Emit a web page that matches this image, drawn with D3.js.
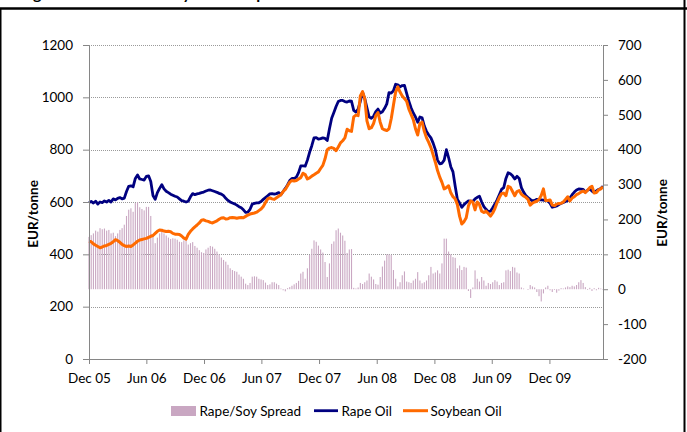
<!DOCTYPE html>
<html><head><meta charset="utf-8">
<script src="https://cdn.jsdelivr.net/npm/d3@7"></script>
<style>
body{margin:0;background:#fff}
svg{display:block}
text{font-family:Lato,"Liberation Sans",sans-serif;fill:#000}
</style>
</head><body>
<svg id="chart" width="687" height="432"></svg>
<script>
// ---- DATA (weekly observations, EUR/tonne) ----
const startDate = "2005-12-01";
const rapeOil = [
 598,602,596,603,592,600,598,604,600,606,600,612,608,614,617,612,615,640,660,662,
 658,690,703,688,686,684,698,700,678,625,610,636,652,666,650,641,636,630,626,622,
 619,612,605,603,600,603,620,632,628,631,633,636,638,642,645,646,643,640,637,633,
 630,624,614,606,600,596,593,588,582,578,570,560,561,572,592,595,597,597,602,610,
 617,624,631,632,630,632,636,628,640,652,665,682,690,690,695,712,738,738,737,760,
 790,815,845,846,840,842,845,843,835,880,920,942,965,984,988,988,984,982,986,985,
 950,944,955,985,1020,995,960,925,920,928,945,955,940,945,958,975,1018,1016,1025,1050,
 1048,1040,1045,1046,1015,985,960,940,925,905,925,922,890,870,856,845,825,800,760,746,
 748,760,800,770,735,715,660,610,596,580,590,598,604,603,602,612,618,622,600,582,
 572,563,565,578,592,608,628,648,655,690,712,708,700,688,698,690,655,638,625,617,
 610,604,606,610,608,608,607,605,604,595,580,582,585,590,595,598,602,605,615,628,
 638,646,650,649,648,638,645,650,642,636,642,648,652,660];
const soyOil = [
 450,448,440,435,430,425,428,432,434,438,442,448,456,452,446,438,433,430,432,430,
 436,443,450,455,457,459,461,465,469,472,480,488,493,492,489,487,488,486,480,477,
 477,476,470,462,458,476,488,497,505,512,520,530,532,528,526,522,520,524,528,534,
 539,540,535,536,540,541,540,538,540,541,540,545,550,554,556,558,561,567,573,583,
 598,612,616,612,610,616,622,628,640,648,662,676,682,680,682,688,693,710,705,688,
 692,699,704,710,715,728,740,765,800,806,808,805,796,810,826,834,845,878,872,870,
 925,932,930,1005,1022,995,910,880,884,900,930,942,905,880,876,873,880,918,970,1020,
 1040,1020,1005,995,985,955,935,915,880,856,900,905,870,845,828,808,780,752,720,695,
 675,650,655,662,635,620,612,590,545,516,525,540,585,604,600,570,600,590,565,560,
 565,556,546,558,575,598,617,632,634,624,660,656,640,624,640,644,630,623,618,610,
 588,596,600,603,610,625,650,606,606,608,588,586,592,594,595,600,610,620,604,615,
 620,628,632,638,642,636,645,655,660,634,636,646,650,658];
const spread = [
 150,155,160,168,165,175,172,174,168,170,160,162,152,160,170,175,185,210,228,232,
 222,247,250,235,230,226,236,236,210,155,132,148,160,172,160,154,148,144,146,145,
 142,136,135,140,142,128,132,135,124,119,112,106,104,114,119,124,122,116,108,100,
 91,84,79,70,60,55,52,50,42,36,30,16,12,18,36,37,36,30,28,26,
 19,12,14,20,20,16,12,2,-3,-6,3,6,10,14,18,24,45,50,30,60,
 98,116,140,136,125,114,105,78,35,74,130,137,169,174,162,154,139,104,114,115,
 4,2,5,18,15,20,25,45,36,28,15,13,35,65,82,100,100,98,55,30,
 8,20,40,51,22,20,18,25,30,49,25,17,20,25,40,64,45,48,54,45,
 74,145,145,108,100,92,90,60,68,55,64,62,-5,-25,5,54,30,22,35,25,
 10,18,15,20,26,22,12,18,20,54,56,52,64,62,48,45,5,2,0,-2,
 12,8,5,-8,-20,-35,-12,5,10,-3,-8,-2,-10,-4,3,2,5,8,6,10,
 8,12,20,26,18,6,-2,4,-5,3,-3,4,2,-2];
const xTickDates = ["2005-12-01","2006-06-01","2006-12-01","2007-06-01","2007-12-01","2008-06-01","2008-12-01","2009-06-01","2009-12-01"];
const xTickLabels = ["Dec 05","Jun 06","Dec 06","Jun 07","Dec 07","Jun 08","Dec 08","Jun 09","Dec 09"];
const leftTicks = [0,200,400,600,800,1000,1200];
const rightTicks = [-200,-100,0,100,200,300,400,500,600,700];
const seriesNames = ["Rape/Soy Spread","Rape Oil","Soybean Oil"];
const axisTitle = "EUR/tonne";
const figureTitle = "Figure 4: Rotterdam Soy Oil vs Rape Oil Prices";

// ---- STYLE ----
const C_SPREAD = "#c9a7c2", C_RAPE = "#000080", C_SOY = "#ff6a00", C_AXIS = "#868686", C_GRID = "#9a9a9a";
const M = {left:89, right:603, top:45, bottom:359};
const FONT = "Lato, 'Liberation Sans', sans-serif";

const parse = d3.utcParse("%Y-%m-%d");
const t0 = parse(startDate);
const dates = rapeOil.map((_, i) => d3.utcDay.offset(t0, 7 * i));

const svg = d3.select("#chart");
svg.append("rect").attr("width",687).attr("height",432).attr("fill","#fff");

const x = d3.scaleUtc().domain([dates[0], dates[dates.length-1]]).range([M.left, M.right]);
const yL = d3.scaleLinear().domain([0,1200]).range([M.bottom, M.top]);
const yR = d3.scaleLinear().domain([-200,700]).range([M.bottom, M.top]);

// title (its lower edge only is visible above the frame, as in the source)
svg.append("text").attr("x",20).attr("y",-1).attr("font-size",16).attr("font-weight","bold").text(figureTitle);

// frame
svg.append("line").attr("x1",0).attr("x2",687).attr("y1",8.5).attr("y2",8.5).attr("stroke","#000").attr("stroke-width",2.5);
svg.append("line").attr("x1",0.75).attr("x2",0.75).attr("y1",8).attr("y2",432).attr("stroke","#000").attr("stroke-width",1.5);
svg.append("line").attr("x1",684.5).attr("x2",684.5).attr("y1",0).attr("y2",432).attr("stroke","#000").attr("stroke-width",2);

// gridlines
svg.append("g").selectAll("line").data(leftTicks.filter(d => d > 0)).join("line")
  .attr("x1",M.left).attr("x2",M.right)
  .attr("y1",d => Math.round(yL(d))+0.5).attr("y2",d => Math.round(yL(d))+0.5)
  .attr("stroke",C_GRID).attr("stroke-width",1).attr("stroke-dasharray","1,1");

// spread bars
svg.append("g").selectAll("rect").data(spread).join("rect")
  .attr("x",(d,i) => x(dates[i]) - 0.55).attr("width",1.1)
  .attr("y",d => Math.min(yR(0), yR(d))).attr("height",d => Math.abs(yR(0) - yR(d)))
  .attr("fill",C_SPREAD);

// lines
const lineL = d3.line().x((d,i) => x(dates[i])).y(d => yL(d));
svg.append("path").datum(rapeOil).attr("d",lineL).attr("fill","none").attr("stroke",C_RAPE)
  .attr("stroke-width",2.8).attr("stroke-linejoin","round");
svg.append("path").datum(soyOil).attr("d",lineL).attr("fill","none").attr("stroke",C_SOY)
  .attr("stroke-width",3).attr("stroke-linejoin","round");

// axes
const fs = 13.5;
const plain = d => String(d);
const gl = svg.append("g").attr("transform",`translate(${M.left},0)`)
  .call(d3.axisLeft(yL).tickValues(leftTicks).tickFormat(plain).tickSize(6).tickPadding(10).tickSizeOuter(0));
const gr = svg.append("g").attr("transform",`translate(${M.right},0)`)
  .call(d3.axisRight(yR).tickValues(rightTicks).tickFormat(plain).tickSize(5).tickPadding(10).tickSizeOuter(0));
const gb = svg.append("g").attr("transform",`translate(0,${M.bottom})`)
  .call(d3.axisBottom(x).tickValues(xTickDates.map(parse)).tickFormat((d,i) => xTickLabels[i])
  .tickSize(5).tickPadding(9).tickSizeOuter(0));
[gl,gr,gb].forEach(g => {
  g.select(".domain").attr("stroke",C_AXIS);
  g.selectAll(".tick line").attr("stroke",C_AXIS);
  g.selectAll("text").attr("font-size",fs).attr("font-family",FONT).attr("fill","#000");
});

// axis titles
svg.append("text").attr("transform","translate(38,214) rotate(-90)").attr("text-anchor","middle")
  .attr("font-size",fs).attr("font-weight","bold").text(axisTitle);
svg.append("text").attr("transform","translate(667,213) rotate(-90)").attr("text-anchor","middle")
  .attr("font-size",fs).attr("font-weight","bold").text(axisTitle);

// legend
const lg = svg.append("g");
lg.append("rect").attr("x",171).attr("y",406).attr("width",25).attr("height",10).attr("fill",C_SPREAD);
lg.append("text").attr("x",199.5).attr("y",416).attr("font-size",fs).text(seriesNames[0]);
lg.append("line").attr("x1",314).attr("x2",338).attr("y1",410.7).attr("y2",410.7).attr("stroke",C_RAPE).attr("stroke-width",2.8);
lg.append("text").attr("x",341.5).attr("y",416).attr("font-size",fs).text(seriesNames[1]);
lg.append("line").attr("x1",403).attr("x2",428).attr("y1",410.7).attr("y2",410.7).attr("stroke",C_SOY).attr("stroke-width",3);
lg.append("text").attr("x",430.5).attr("y",416).attr("font-size",fs).text(seriesNames[2]);
</script>
</body></html>
